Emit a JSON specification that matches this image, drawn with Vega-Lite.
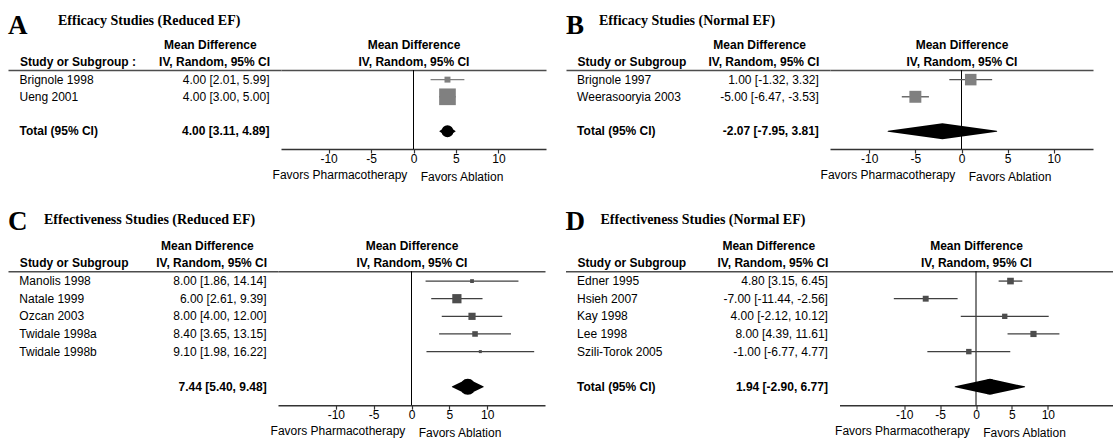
{
  "$schema": "https://vega.github.io/schema/vega-lite/v6.json",
  "background": "white",
  "padding": {"left": 8, "top": 12, "right": 0, "bottom": 0},
  "config": {"view": {"stroke": null}, "font": "Liberation Sans"},
  "data": {"values": [
    {"panel": "A", "row": 1, "kind": "study", "study": "Brignole 1998", "ci": "4.00 [2.01, 5.99]", "md": 4.00, "lo": 2.01, "hi": 5.99, "weight": 20.2},
    {"panel": "A", "row": 2, "kind": "study", "study": "Ueng 2001", "ci": "4.00 [3.00, 5.00]", "md": 4.00, "lo": 3.00, "hi": 5.00, "weight": 79.8},
    {"panel": "A", "row": 4, "kind": "total", "study": "Total (95% CI)", "ci": "4.00 [3.11, 4.89]", "md": 4.00, "lo": 3.11, "hi": 4.89, "weight": 100},
    {"panel": "B", "row": 1, "kind": "study", "study": "Brignole 1997", "ci": "1.00 [-1.32, 3.32]", "md": 1.00, "lo": -1.32, "hi": 3.32, "weight": 48.8},
    {"panel": "B", "row": 2, "kind": "study", "study": "Weerasooryia 2003", "ci": "-5.00 [-6.47, -3.53]", "md": -5.00, "lo": -6.47, "hi": -3.53, "weight": 51.2},
    {"panel": "B", "row": 4, "kind": "total", "study": "Total (95% CI)", "ci": "-2.07 [-7.95, 3.81]", "md": -2.07, "lo": -7.95, "hi": 3.81, "weight": 100},
    {"panel": "C", "row": 1, "kind": "study", "study": "Manolis 1998", "ci": "8.00 [1.86, 14.14]", "md": 8.00, "lo": 1.86, "hi": 14.14, "weight": 11.1},
    {"panel": "C", "row": 2, "kind": "study", "study": "Natale 1999", "ci": "6.00 [2.61, 9.39]", "md": 6.00, "lo": 2.61, "hi": 9.39, "weight": 36.2},
    {"panel": "C", "row": 3, "kind": "study", "study": "Ozcan 2003", "ci": "8.00 [4.00, 12.00]", "md": 8.00, "lo": 4.00, "hi": 12.00, "weight": 26.0},
    {"panel": "C", "row": 4, "kind": "study", "study": "Twidale 1998a", "ci": "8.40 [3.65, 13.15]", "md": 8.40, "lo": 3.65, "hi": 13.15, "weight": 18.5},
    {"panel": "C", "row": 5, "kind": "study", "study": "Twidale 1998b", "ci": "9.10 [1.98, 16.22]", "md": 9.10, "lo": 1.98, "hi": 16.22, "weight": 8.2},
    {"panel": "C", "row": 7, "kind": "total", "study": "", "ci": "7.44 [5.40, 9.48]", "md": 7.44, "lo": 5.40, "hi": 9.48, "weight": 100},
    {"panel": "D", "row": 1, "kind": "study", "study": "Edner 1995", "ci": "4.80 [3.15, 6.45]", "md": 4.80, "lo": 3.15, "hi": 6.45, "weight": 23.4},
    {"panel": "D", "row": 2, "kind": "study", "study": "Hsieh 2007", "ci": "-7.00 [-11.44, -2.56]", "md": -7.00, "lo": -11.44, "hi": -2.56, "weight": 20.0},
    {"panel": "D", "row": 3, "kind": "study", "study": "Kay 1998", "ci": "4.00 [-2.12, 10.12]", "md": 4.00, "lo": -2.12, "hi": 10.12, "weight": 17.4},
    {"panel": "D", "row": 4, "kind": "study", "study": "Lee 1998", "ci": "8.00 [4.39, 11.61]", "md": 8.00, "lo": 4.39, "hi": 11.61, "weight": 21.3},
    {"panel": "D", "row": 5, "kind": "study", "study": "Szili-Torok 2005", "ci": "-1.00 [-6.77, 4.77]", "md": -1.00, "lo": -6.77, "hi": 4.77, "weight": 17.9},
    {"panel": "D", "row": 7, "kind": "total", "study": "Total (95% CI)", "ci": "1.94 [-2.90, 6.77]", "md": 1.94, "lo": -2.90, "hi": 6.77, "weight": 100}
  ]},
  "spacing": 25.2,
  "vconcat": [
    {
      "spacing": 20,
      "hconcat": [
        {
          "title": {"text": "Efficacy Studies (Reduced EF)", "anchor": "start", "font": "Liberation Serif", "fontSize": 14, "fontWeight": "bold", "color": "#000", "dx": 50, "dy": 16.3, "offset": 0},
          "bounds": "flush",
          "spacing": 0,
          "hconcat": [
            {
              "width": 273, "height": 79,
              "title": {"text": "A", "anchor": "start", "frame": "group", "font": "Liberation Serif", "fontSize": 27, "fontWeight": "bold", "color": "#000", "offset": -1.5},
              "transform": [{"filter": "datum.panel === 'A'"}, {"fold": ["study", "ci"], "as": ["col", "label"]}],
              "mark": {"type": "text", "font": "Liberation Sans", "fontSize": 12, "color": "#000", "baseline": "middle", "align": {"expr": "datum.col === 'study' ? 'left' : 'right'"}, "fontWeight": {"expr": "datum.kind === 'total' ? 'bold' : 'normal'"}},
              "encoding": {
                "x": {"field": "col", "type": "nominal", "scale": {"type": "point", "domain": ["study", "ci"], "padding": 0.046},
                  "axis": {"orient": "top", "title": null, "domain": true, "domainColor": "#4d4d4d", "domainWidth": 1.6, "ticks": false, "tickSize": 0, "grid": false, "labelExpr": "datum.value === 'study' ? ['', 'Study or Subgroup :'] : ['Mean Difference\u00a0\u00a0\u00a0\u00a0\u200b', 'IV, Random, 95% CI']", "labelAlign": {"condition": {"test": "datum.value === 'study'", "value": "left"}, "value": "right"}, "labelBaseline": "bottom", "labelFont": "Liberation Sans", "labelFontSize": 12, "labelFontWeight": "bold", "labelColor": "#000", "labelPadding": 18.5, "labelLineHeight": 16.5, "labelOverlap": false, "labelBound": false, "labelAngle": 0}},
                "y": {"field": "row", "type": "ordinal", "scale": {"type": "point", "domain": [1, 2, 3, 4], "padding": 0.8, "align": 0.35}, "axis": null},
                "text": {"field": "label"}
              }
            },
            {
              "width": 265, "height": 79,
              "transform": [{"filter": "datum.panel === 'A'"}],
              "layer": [
                {
                  "transform": [{"filter": "datum.kind === 'total'"}],
                  "mark": {"type": "rule", "color": "#000", "strokeWidth": 1},
                  "encoding": {
                    "x": {"datum": 0, "type": "quantitative", "scale": {"domain": [-15.6, 15.6], "nice": false, "zero": false},
                      "axis": {"orient": "top", "domain": true, "domainColor": "#4d4d4d", "domainWidth": 1.6, "ticks": false, "tickSize": 0, "labels": false, "grid": false, "title": ["Mean Difference", "IV, Random, 95% CI"], "titleFont": "Liberation Sans", "titleFontSize": 12, "titleFontWeight": "bold", "titleColor": "#000", "titlePadding": 2, "titleLineHeight": 16.5, "titleAnchor": "middle", "titleBaseline": "bottom"}}
                  }
                },
                {
                  "transform": [{"filter": "datum.kind === 'study'"}],
                  "mark": {"type": "rule", "color": "#808080", "strokeWidth": 1.3},
                  "encoding": {
                    "x": {"field": "lo", "type": "quantitative",
                      "axis": {"orient": "bottom", "values": [-10, -5, 0, 5, 10], "labelExpr": "'' + datum.value", "domain": true, "domainColor": "#333", "domainWidth": 1.4, "ticks": true, "tickColor": "#333", "tickSize": 4, "tickWidth": 1.2, "labelFont": "Liberation Sans", "labelFontSize": 12, "labelColor": "#000", "labelPadding": 0, "labelFlush": false, "labelOverlap": false, "grid": false, "title": "Favors Pharmacotherapy\u00a0\u00a0\u200b", "titleFont": "Liberation Sans", "titleFontSize": 12, "titleFontWeight": "normal", "titleColor": "#000", "titleAnchor": "middle", "titleAlign": "right", "titlePadding": 5.5}},
                    "x2": {"field": "hi"},
                    "y": {"field": "row", "type": "ordinal", "scale": {"type": "point", "domain": [1, 2, 3, 4], "padding": 0.8, "align": 0.35}, "axis": null}
                  }
                },
                {
                  "transform": [{"filter": "datum.kind === 'study'"}],
                  "mark": {"type": "square", "color": "#808080", "opacity": 1, "filled": true},
                  "encoding": {
                    "x": {"field": "md", "type": "quantitative", "axis": null},
                    "y": {"field": "row", "type": "ordinal", "scale": {"type": "point", "domain": [1, 2, 3, 4], "padding": 0.8, "align": 0.35}, "axis": null},
                    "size": {"field": "weight", "type": "quantitative", "scale": {"type": "pow", "exponent": 1.5, "domain": [0, 100], "range": [0, 390]}, "legend": null}
                  }
                },
                {
                  "transform": [{"filter": "datum.kind === 'total'"}, {"fold": ["lo", "md", "hi"], "as": ["point", "value"]}],
                  "mark": {"type": "trail", "color": "#000"},
                  "encoding": {
                    "x": {"field": "value", "type": "quantitative",
                      "axis": {"orient": "bottom", "domain": false, "ticks": false, "labels": false, "grid": false, "title": "\u200b\u00a0\u00a0Favors Ablation", "titleFont": "Liberation Sans", "titleFontSize": 12, "titleFontWeight": "normal", "titleColor": "#000", "titleAnchor": "middle", "titleAlign": "left", "titlePadding": 22.5}},
                    "y": {"field": "row", "type": "ordinal", "scale": {"type": "point", "domain": [1, 2, 3, 4], "padding": 0.8, "align": 0.35}, "axis": null},
                    "order": {"field": "value", "type": "quantitative"},
                    "size": {"condition": {"test": "datum.point === 'md'", "value": 12}, "value": 0}
                  }
                }
              ],
              "resolve": {"axis": {"x": "independent"}}
            }
          ]
        },
        {
          "title": {"text": "Efficacy Studies (Normal EF)", "anchor": "start", "font": "Liberation Serif", "fontSize": 14, "fontWeight": "bold", "color": "#000", "dx": 33, "dy": 16.3, "offset": 0},
          "bounds": "flush",
          "spacing": 0,
          "hconcat": [
            {
              "width": 264, "height": 79,
              "title": {"text": "B", "anchor": "start", "frame": "group", "font": "Liberation Serif", "fontSize": 27, "fontWeight": "bold", "color": "#000", "offset": -1.5},
              "transform": [{"filter": "datum.panel === 'B'"}, {"fold": ["study", "ci"], "as": ["col", "label"]}],
              "mark": {"type": "text", "font": "Liberation Sans", "fontSize": 12, "color": "#000", "baseline": "middle", "align": {"expr": "datum.col === 'study' ? 'left' : 'right'"}, "fontWeight": {"expr": "datum.kind === 'total' ? 'bold' : 'normal'"}},
              "encoding": {
                "x": {"field": "col", "type": "nominal", "scale": {"type": "point", "domain": ["study", "ci"], "padding": 0.046},
                  "axis": {"orient": "top", "title": null, "domain": true, "domainColor": "#4d4d4d", "domainWidth": 1.6, "ticks": false, "tickSize": 0, "grid": false, "labelExpr": "datum.value === 'study' ? ['', 'Study or Subgroup'] : ['Mean Difference\u00a0\u00a0\u00a0\u00a0\u200b', 'IV, Random, 95% CI']", "labelAlign": {"condition": {"test": "datum.value === 'study'", "value": "left"}, "value": "right"}, "labelBaseline": "bottom", "labelFont": "Liberation Sans", "labelFontSize": 12, "labelFontWeight": "bold", "labelColor": "#000", "labelPadding": 18.5, "labelLineHeight": 16.5, "labelOverlap": false, "labelBound": false, "labelAngle": 0}},
                "y": {"field": "row", "type": "ordinal", "scale": {"type": "point", "domain": [1, 2, 3, 4], "padding": 0.8, "align": 0.35}, "axis": null},
                "text": {"field": "label"}
              }
            },
            {
              "width": 263, "height": 79,
              "transform": [{"filter": "datum.panel === 'B'"}],
              "layer": [
                {
                  "transform": [{"filter": "datum.kind === 'total'"}],
                  "mark": {"type": "rule", "color": "#000", "strokeWidth": 1},
                  "encoding": {
                    "x": {"datum": 0, "type": "quantitative", "scale": {"domain": [-14.25, 14.25], "nice": false, "zero": false},
                      "axis": {"orient": "top", "domain": true, "domainColor": "#4d4d4d", "domainWidth": 1.6, "ticks": false, "tickSize": 0, "labels": false, "grid": false, "title": ["Mean Difference", "IV, Random, 95% CI"], "titleFont": "Liberation Sans", "titleFontSize": 12, "titleFontWeight": "bold", "titleColor": "#000", "titlePadding": 2, "titleLineHeight": 16.5, "titleAnchor": "middle", "titleBaseline": "bottom"}}
                  }
                },
                {
                  "transform": [{"filter": "datum.kind === 'study'"}],
                  "mark": {"type": "rule", "color": "#555555", "strokeWidth": 1.3},
                  "encoding": {
                    "x": {"field": "lo", "type": "quantitative",
                      "axis": {"orient": "bottom", "values": [-10, -5, 0, 5, 10], "labelExpr": "'' + datum.value", "domain": true, "domainColor": "#333", "domainWidth": 1.4, "ticks": true, "tickColor": "#333", "tickSize": 4, "tickWidth": 1.2, "labelFont": "Liberation Sans", "labelFontSize": 12, "labelColor": "#000", "labelPadding": 0, "labelFlush": false, "labelOverlap": false, "grid": false, "title": "Favors Pharmacotherapy\u00a0\u00a0\u200b", "titleFont": "Liberation Sans", "titleFontSize": 12, "titleFontWeight": "normal", "titleColor": "#000", "titleAnchor": "middle", "titleAlign": "right", "titlePadding": 5.5}},
                    "x2": {"field": "hi"},
                    "y": {"field": "row", "type": "ordinal", "scale": {"type": "point", "domain": [1, 2, 3, 4], "padding": 0.8, "align": 0.35}, "axis": null}
                  }
                },
                {
                  "transform": [{"filter": "datum.kind === 'study'"}],
                  "mark": {"type": "square", "color": "#808080", "opacity": 1, "filled": true},
                  "encoding": {
                    "x": {"field": "md", "type": "quantitative", "axis": null},
                    "y": {"field": "row", "type": "ordinal", "scale": {"type": "point", "domain": [1, 2, 3, 4], "padding": 0.8, "align": 0.35}, "axis": null},
                    "size": {"field": "weight", "type": "quantitative", "scale": {"type": "pow", "exponent": 1.5, "domain": [0, 100], "range": [0, 390]}, "legend": null}
                  }
                },
                {
                  "transform": [{"filter": "datum.kind === 'total'"}, {"fold": ["lo", "md", "hi"], "as": ["point", "value"]}],
                  "mark": {"type": "trail", "color": "#000"},
                  "encoding": {
                    "x": {"field": "value", "type": "quantitative",
                      "axis": {"orient": "bottom", "domain": false, "ticks": false, "labels": false, "grid": false, "title": "\u200b\u00a0\u00a0Favors Ablation", "titleFont": "Liberation Sans", "titleFontSize": 12, "titleFontWeight": "normal", "titleColor": "#000", "titleAnchor": "middle", "titleAlign": "left", "titlePadding": 22.5}},
                    "y": {"field": "row", "type": "ordinal", "scale": {"type": "point", "domain": [1, 2, 3, 4], "padding": 0.8, "align": 0.35}, "axis": null},
                    "order": {"field": "value", "type": "quantitative"},
                    "size": {"condition": {"test": "datum.point === 'md'", "value": 16}, "value": 0}
                  }
                }
              ],
              "resolve": {"axis": {"x": "independent"}}
            }
          ]
        }
      ]
    },
    {
      "spacing": 20.5,
      "hconcat": [
        {
          "title": {"text": "Effectiveness Studies (Reduced EF)", "anchor": "start", "font": "Liberation Serif", "fontSize": 14, "fontWeight": "bold", "color": "#000", "dx": 36, "dy": 18.5, "offset": 0},
          "bounds": "flush",
          "spacing": 0,
          "hconcat": [
            {
              "width": 270, "height": 134,
              "title": {"text": "C", "anchor": "start", "frame": "group", "font": "Liberation Serif", "fontSize": 27, "fontWeight": "bold", "color": "#000", "offset": 3.5},
              "transform": [{"filter": "datum.panel === 'C'"}, {"fold": ["study", "ci"], "as": ["col", "label"]}],
              "mark": {"type": "text", "font": "Liberation Sans", "fontSize": 12, "color": "#000", "baseline": "middle", "align": {"expr": "datum.col === 'study' ? 'left' : 'right'"}, "fontWeight": {"expr": "datum.kind === 'total' ? 'bold' : 'normal'"}},
              "encoding": {
                "x": {"field": "col", "type": "nominal", "scale": {"type": "point", "domain": ["study", "ci"], "padding": 0.046},
                  "axis": {"orient": "top", "title": null, "domain": true, "domainColor": "#4d4d4d", "domainWidth": 1.6, "ticks": false, "tickSize": 0, "grid": false, "labelExpr": "datum.value === 'study' ? ['', 'Study or Subgroup'] : ['Mean Difference\u00a0\u00a0\u00a0\u00a0\u200b', 'IV, Random, 95% CI']", "labelAlign": {"condition": {"test": "datum.value === 'study'", "value": "left"}, "value": "right"}, "labelBaseline": "bottom", "labelFont": "Liberation Sans", "labelFontSize": 12, "labelFontWeight": "bold", "labelColor": "#000", "labelPadding": 18.5, "labelLineHeight": 16.5, "labelOverlap": false, "labelBound": false, "labelAngle": 0}},
                "y": {"field": "row", "type": "ordinal", "scale": {"type": "point", "domain": [1, 2, 3, 4, 5, 6, 7], "padding": 0.8, "align": 0.35}, "axis": null},
                "text": {"field": "label"}
              }
            },
            {
              "width": 267, "height": 134,
              "transform": [{"filter": "datum.panel === 'C'"}],
              "layer": [
                {
                  "transform": [{"filter": "datum.kind === 'total'"}],
                  "mark": {"type": "rule", "color": "#000", "strokeWidth": 1},
                  "encoding": {
                    "x": {"datum": 0, "type": "quantitative", "scale": {"domain": [-17.65, 17.65], "nice": false, "zero": false},
                      "axis": {"orient": "top", "domain": true, "domainColor": "#4d4d4d", "domainWidth": 1.6, "ticks": false, "tickSize": 0, "labels": false, "grid": false, "title": ["Mean Difference", "IV, Random, 95% CI"], "titleFont": "Liberation Sans", "titleFontSize": 12, "titleFontWeight": "bold", "titleColor": "#000", "titlePadding": 2, "titleLineHeight": 16.5, "titleAnchor": "middle", "titleBaseline": "bottom"}}
                  }
                },
                {
                  "transform": [{"filter": "datum.kind === 'study'"}],
                  "mark": {"type": "rule", "color": "#404040", "strokeWidth": 1.3},
                  "encoding": {
                    "x": {"field": "lo", "type": "quantitative",
                      "axis": {"orient": "bottom", "values": [-10, -5, 0, 5, 10], "labelExpr": "'' + datum.value", "domain": true, "domainColor": "#333", "domainWidth": 1.4, "ticks": true, "tickColor": "#333", "tickSize": 4, "tickWidth": 1.2, "labelFont": "Liberation Sans", "labelFontSize": 12, "labelColor": "#000", "labelPadding": 0, "labelFlush": false, "labelOverlap": false, "grid": false, "title": "Favors Pharmacotherapy\u00a0\u00a0\u200b", "titleFont": "Liberation Sans", "titleFontSize": 12, "titleFontWeight": "normal", "titleColor": "#000", "titleAnchor": "middle", "titleAlign": "right", "titlePadding": 5.5}},
                    "x2": {"field": "hi"},
                    "y": {"field": "row", "type": "ordinal", "scale": {"type": "point", "domain": [1, 2, 3, 4, 5, 6, 7], "padding": 0.8, "align": 0.35}, "axis": null}
                  }
                },
                {
                  "transform": [{"filter": "datum.kind === 'study'"}],
                  "mark": {"type": "square", "color": "#4d4d4d", "opacity": 1, "filled": true},
                  "encoding": {
                    "x": {"field": "md", "type": "quantitative", "axis": null},
                    "y": {"field": "row", "type": "ordinal", "scale": {"type": "point", "domain": [1, 2, 3, 4, 5, 6, 7], "padding": 0.8, "align": 0.35}, "axis": null},
                    "size": {"field": "weight", "type": "quantitative", "scale": {"type": "pow", "exponent": 1.5, "domain": [0, 100], "range": [0, 390]}, "legend": null}
                  }
                },
                {
                  "transform": [{"filter": "datum.kind === 'total'"}, {"fold": ["lo", "md", "hi"], "as": ["point", "value"]}],
                  "mark": {"type": "trail", "color": "#000"},
                  "encoding": {
                    "x": {"field": "value", "type": "quantitative",
                      "axis": {"orient": "bottom", "domain": false, "ticks": false, "labels": false, "grid": false, "title": "\u200b\u00a0\u00a0Favors Ablation", "titleFont": "Liberation Sans", "titleFontSize": 12, "titleFontWeight": "normal", "titleColor": "#000", "titleAnchor": "middle", "titleAlign": "left", "titlePadding": 22.5}},
                    "y": {"field": "row", "type": "ordinal", "scale": {"type": "point", "domain": [1, 2, 3, 4, 5, 6, 7], "padding": 0.8, "align": 0.35}, "axis": null},
                    "order": {"field": "value", "type": "quantitative"},
                    "size": {"condition": {"test": "datum.point === 'md'", "value": 16}, "value": 0}
                  }
                }
              ],
              "resolve": {"axis": {"x": "independent"}}
            }
          ]
        },
        {
          "title": {"text": "Effectiveness Studies (Normal EF)", "anchor": "start", "font": "Liberation Serif", "fontSize": 14, "fontWeight": "bold", "color": "#000", "dx": 35, "dy": 18.5, "offset": 0},
          "bounds": "flush",
          "spacing": 0,
          "hconcat": [
            {
              "width": 274, "height": 134,
              "title": {"text": "D", "anchor": "start", "frame": "group", "font": "Liberation Serif", "fontSize": 27, "fontWeight": "bold", "color": "#000", "offset": 3.5},
              "transform": [{"filter": "datum.panel === 'D'"}, {"fold": ["study", "ci"], "as": ["col", "label"]}],
              "mark": {"type": "text", "font": "Liberation Sans", "fontSize": 12, "color": "#000", "baseline": "middle", "align": {"expr": "datum.col === 'study' ? 'left' : 'right'"}, "fontWeight": {"expr": "datum.kind === 'total' ? 'bold' : 'normal'"}},
              "encoding": {
                "x": {"field": "col", "type": "nominal", "scale": {"type": "point", "domain": ["study", "ci"], "padding": 0.046},
                  "axis": {"orient": "top", "title": null, "domain": true, "domainColor": "#4d4d4d", "domainWidth": 1.6, "ticks": false, "tickSize": 0, "grid": false, "labelExpr": "datum.value === 'study' ? ['', 'Study or Subgroup'] : ['Mean Difference\u00a0\u00a0\u00a0\u00a0\u200b', 'IV, Random, 95% CI']", "labelAlign": {"condition": {"test": "datum.value === 'study'", "value": "left"}, "value": "right"}, "labelBaseline": "bottom", "labelFont": "Liberation Sans", "labelFontSize": 12, "labelFontWeight": "bold", "labelColor": "#000", "labelPadding": 18.5, "labelLineHeight": 16.5, "labelOverlap": false, "labelBound": false, "labelAngle": 0}},
                "y": {"field": "row", "type": "ordinal", "scale": {"type": "point", "domain": [1, 2, 3, 4, 5, 6, 7], "padding": 0.8, "align": 0.35}, "axis": null},
                "text": {"field": "label"}
              }
            },
            {
              "width": 273, "height": 134,
              "transform": [{"filter": "datum.panel === 'D'"}],
              "layer": [
                {
                  "transform": [{"filter": "datum.kind === 'total'"}],
                  "mark": {"type": "rule", "color": "#000", "strokeWidth": 1},
                  "encoding": {
                    "x": {"datum": 0, "type": "quantitative", "scale": {"domain": [-19, 19], "nice": false, "zero": false},
                      "axis": {"orient": "top", "domain": true, "domainColor": "#4d4d4d", "domainWidth": 1.6, "ticks": false, "tickSize": 0, "labels": false, "grid": false, "title": ["Mean Difference", "IV, Random, 95% CI"], "titleFont": "Liberation Sans", "titleFontSize": 12, "titleFontWeight": "bold", "titleColor": "#000", "titlePadding": 2, "titleLineHeight": 16.5, "titleAnchor": "middle", "titleBaseline": "bottom"}}
                  }
                },
                {
                  "transform": [{"filter": "datum.kind === 'study'"}],
                  "mark": {"type": "rule", "color": "#404040", "strokeWidth": 1.3},
                  "encoding": {
                    "x": {"field": "lo", "type": "quantitative",
                      "axis": {"orient": "bottom", "values": [-10, -5, 0, 5, 10], "labelExpr": "'' + datum.value", "domain": true, "domainColor": "#333", "domainWidth": 1.4, "ticks": true, "tickColor": "#333", "tickSize": 4, "tickWidth": 1.2, "labelFont": "Liberation Sans", "labelFontSize": 12, "labelColor": "#000", "labelPadding": 0, "labelFlush": false, "labelOverlap": false, "grid": false, "title": "Favors Pharmacotherapy\u00a0\u00a0\u200b", "titleFont": "Liberation Sans", "titleFontSize": 12, "titleFontWeight": "normal", "titleColor": "#000", "titleAnchor": "middle", "titleAlign": "right", "titlePadding": 5.5}},
                    "x2": {"field": "hi"},
                    "y": {"field": "row", "type": "ordinal", "scale": {"type": "point", "domain": [1, 2, 3, 4, 5, 6, 7], "padding": 0.8, "align": 0.35}, "axis": null}
                  }
                },
                {
                  "transform": [{"filter": "datum.kind === 'study'"}],
                  "mark": {"type": "square", "color": "#4d4d4d", "opacity": 1, "filled": true},
                  "encoding": {
                    "x": {"field": "md", "type": "quantitative", "axis": null},
                    "y": {"field": "row", "type": "ordinal", "scale": {"type": "point", "domain": [1, 2, 3, 4, 5, 6, 7], "padding": 0.8, "align": 0.35}, "axis": null},
                    "size": {"field": "weight", "type": "quantitative", "scale": {"type": "pow", "exponent": 1.5, "domain": [0, 100], "range": [0, 390]}, "legend": null}
                  }
                },
                {
                  "transform": [{"filter": "datum.kind === 'total'"}, {"fold": ["lo", "md", "hi"], "as": ["point", "value"]}],
                  "mark": {"type": "trail", "color": "#000"},
                  "encoding": {
                    "x": {"field": "value", "type": "quantitative",
                      "axis": {"orient": "bottom", "domain": false, "ticks": false, "labels": false, "grid": false, "title": "\u200b\u00a0\u00a0Favors Ablation", "titleFont": "Liberation Sans", "titleFontSize": 12, "titleFontWeight": "normal", "titleColor": "#000", "titleAnchor": "middle", "titleAlign": "left", "titlePadding": 22.5}},
                    "y": {"field": "row", "type": "ordinal", "scale": {"type": "point", "domain": [1, 2, 3, 4, 5, 6, 7], "padding": 0.8, "align": 0.35}, "axis": null},
                    "order": {"field": "value", "type": "quantitative"},
                    "size": {"condition": {"test": "datum.point === 'md'", "value": 16}, "value": 0}
                  }
                }
              ],
              "resolve": {"axis": {"x": "independent"}}
            }
          ]
        }
      ]
    }
  ]
}
